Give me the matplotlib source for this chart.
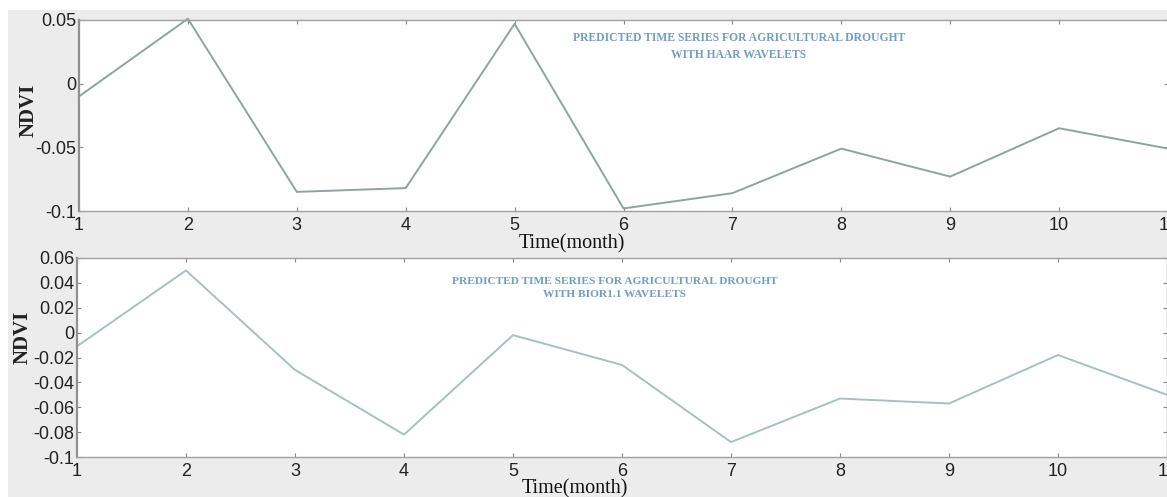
import matplotlib
matplotlib.use("Agg")
import matplotlib.pyplot as plt
from matplotlib.patches import Rectangle

# Monthly predicted NDVI series
months = [1, 2, 3, 4, 5, 6, 7, 8, 9, 10, 11]
ndvi_haar = [-0.010, 0.051, -0.085, -0.082, 0.047, -0.098, -0.086, -0.051, -0.073, -0.035, -0.051]
ndvi_bior = [-0.011, 0.050, -0.030, -0.082, -0.002, -0.026, -0.088, -0.053, -0.057, -0.018, -0.050]

haar_yticks = [-0.1, -0.05, 0, 0.05]
haar_ylabels = ["-0.1", "-0.05", "0", "0.05"]
bior_yticks = [-0.1, -0.08, -0.06, -0.04, -0.02, 0, 0.02, 0.04, 0.06]
bior_ylabels = ["-0.1", "-0.08", "-0.06", "-0.04", "-0.02", "0", "0.02", "0.04", "0.06"]

title_haar = "PREDICTED TIME SERIES FOR AGRICULTURAL DROUGHT\nWITH HAAR WAVELETS"
title_bior = "PREDICTED TIME SERIES FOR AGRICULTURAL DROUGHT\nWITH BIOR1.1 WAVELETS"

W, H = 1167, 497
fig = plt.figure(figsize=(W / 100, H / 100), dpi=100)
fig.patch.set_facecolor("white")
fig.patches.append(Rectangle((8 / W, 0), 1 - 8 / W, (H - 10) / H,
                             transform=fig.transFigure, facecolor="#ececec",
                             edgecolor="none", zorder=-10))


def px_axes(left, top, right, bottom):
    return fig.add_axes([left / W, 1 - bottom / H, (right - left) / W, (bottom - top) / H])


def style(ax, yticks, ylabels, ylim, xfs, yfs):
    ax.set_facecolor("white")
    ax.set_xlim(1, 11)
    ax.set_ylim(*ylim)
    ax.set_xticks(months)
    ax.set_xticklabels([str(m) for m in months], fontsize=xfs,
                       fontfamily="Liberation Sans", color="#222222")
    ax.set_yticks(yticks)
    ax.set_yticklabels(ylabels, fontsize=yfs, fontfamily="Liberation Sans",
                       color="#222222")
    ax.tick_params(direction="in", length=3, width=0.8, color="#888888",
                   top=True, right=True, pad=4)
    ax.tick_params(axis="y", pad=2)
    for s in ax.spines.values():
        s.set_color("#a0a0a0")
        s.set_linewidth(1.0)
    ax.spines["left"].set_color("#909090")
    ax.spines["left"].set_linewidth(1.6)


ax1 = px_axes(79, 20, 1168, 211)
style(ax1, haar_yticks, haar_ylabels, (-0.1, 0.05), 13, 13)
ax1.plot(months, ndvi_haar, color="#8fa3a2", lw=1.4, clip_on=False)
ax1.text(0.606, 0.935, title_haar, transform=ax1.transAxes, ha="center", va="top",
         fontsize=8.4, fontweight="bold", fontfamily="Liberation Serif",
         color="#6f9ec2", linespacing=1.55)

ax2 = px_axes(77, 258, 1167, 457)
style(ax2, bior_yticks, bior_ylabels, (-0.1, 0.06), 13, 13)
ax2.plot(months, ndvi_bior, color="#a9c0c0", lw=1.4, clip_on=False)
ax2.text(0.493, 0.905, title_bior, transform=ax2.transAxes, ha="center", va="top",
         fontsize=8.2, fontweight="bold", fontfamily="Liberation Serif",
         color="#6f9ec2", linespacing=1.55)

# Axis titles
fig.text(29 / W, 1 - 110 / H, "NDVI", rotation=90, ha="center", va="center",
         fontsize=15, fontweight="bold", fontfamily="Liberation Serif", color="#222222")
fig.text(23 / W, 1 - 337 / H, "NDVI", rotation=90, ha="center", va="center",
         fontsize=15, fontweight="bold", fontfamily="Liberation Serif", color="#222222")
fig.text(572 / W, 1 - 244 / H, "Time(month)", ha="center", va="center",
         fontsize=14.5, fontfamily="Liberation Serif", color="#111111")
fig.text(575 / W, 1 - 489 / H, "Time(month)", ha="center", va="center",
         fontsize=14.5, fontfamily="Liberation Serif", color="#111111")

fig.savefig("out.png", dpi=100, facecolor=fig.get_facecolor())
